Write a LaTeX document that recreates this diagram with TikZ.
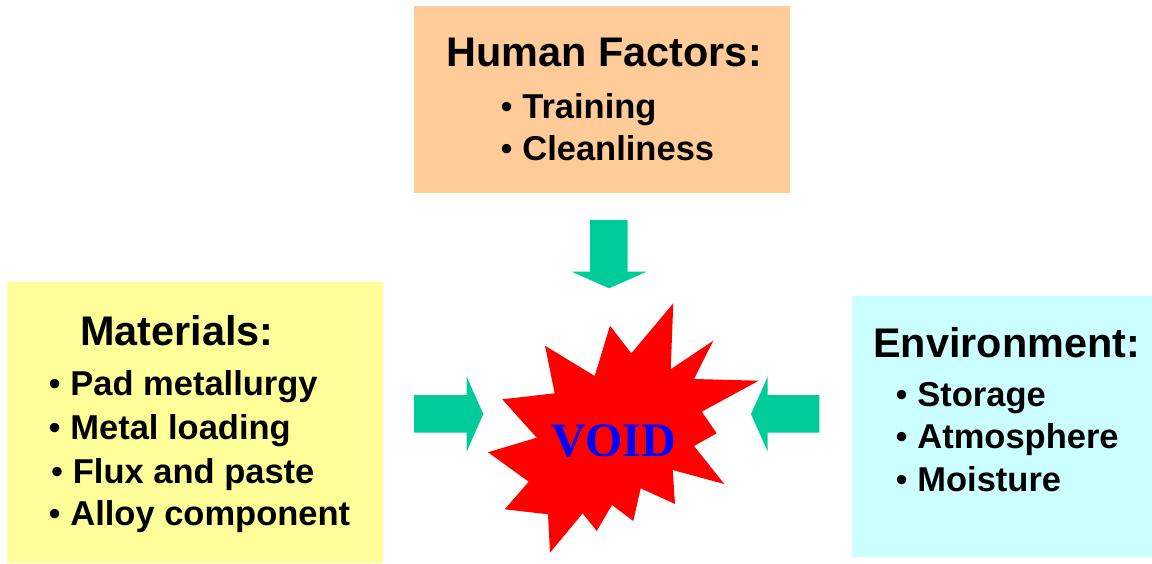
\documentclass[tikz,border=0pt]{standalone}
\usepackage{fontspec}
\setmainfont{Liberation Sans}
\newfontfamily\voidfont{Liberation Serif}
\usepackage{tikz}
\usetikzlibrary{positioning}
\definecolor{peach}{HTML}{FFCC99}
\definecolor{lemon}{HTML}{FFFF99}
\definecolor{aqua}{HTML}{CCFFFF}
\definecolor{sea}{HTML}{00CC99}
\newcommand{\bul}{{\mdseries •} }
\tikzset{head/.style={anchor=base west,inner sep=0pt,font=\fontsize{41.4}{41.4}\selectfont\bfseries},
         item/.style={anchor=base west,inner sep=0pt,font=\fontsize{34.5}{34.5}\selectfont\bfseries},
         blockarrow/.style={fill=sea}}

\begin{document}
\begin{tikzpicture}[x=1pt,y=-1pt]
            \useasboundingbox (0,0) rectangle (1152,563);
            % boxes
            \fill[peach] (414,6) rectangle (790,193);
            \fill[lemon] (7,282) rectangle (383,563);
            \fill[aqua] (852,296) rectangle (1152,557);
            % top box
            \node[head] (human) at (446.5,66.5) {Human Factors:};
            \node[item] (training) at (500.5,118) {\bul Training};
            \node[item] (clean) at (500.5,160.5) {\bul Cleanliness};
            % left box
            \node[head] (mat) at (80,345) {Materials:};
            \node[item] (pad) at (48.5,395) {\bul Pad metallurgy};
            \node[item] (metal) at (48.5,439.5) {\bul Metal loading};
            \node[item] (flux) at (51,483) {\bul Flux and paste};
            \node[item] (alloy) at (48.5,525.5) {\bul Alloy component};
            % right box
            \node[head] (env) at (873,357) {Environment:};
            \node[item] (store) at (895.5,406) {\bul Storage};
            \node[item] (atmo) at (895.5,448.5) {\bul Atmosphere};
            \node[item] (moist) at (895.5,491.5) {\bul Moisture};
            % block arrows
            \fill[blockarrow] (590,220) -- (627.7,220) -- (627.7,271.7) -- (646.7,271.7)
                -- (609,288.3) -- (571.7,271.7) -- (590,271.7) -- cycle;
            \fill[blockarrow] (414,395) -- (466.7,395) -- (466.7,376.7) -- (483.3,414)
                -- (466.7,451.7) -- (466.7,432.7) -- (414,432.7) -- cycle;
            \fill[blockarrow] (819.3,395) -- (767.7,395) -- (767.7,376.7) -- (751,414)
                -- (767.7,451.7) -- (767.7,432.7) -- (819.3,432.7) -- cycle;
            % starburst
            \fill[red] (673.3,303.3) -- (670.7,369.3) -- (713.3,340.7) -- (694,379)
                -- (758.7,380.7) -- (701.7,411.7) -- (716.7,433.3) -- (694,446)
                -- (724.3,484) -- (672.7,470) -- (675,504) -- (640.7,488.3)
                -- (633.3,521) -- (612,505) -- (596.7,531) -- (582.7,513.3)
                -- (550,552.7) -- (548,514.3) -- (504.7,509.3) -- (528.7,481.7)
                -- (488,452.3) -- (536.7,437.7) -- (502.3,399.3) -- (554.7,393.3)
                -- (545,345.7) -- (594.7,376) -- (610,325.7) -- (631.3,353.3) -- cycle;
            \node[anchor=base,inner sep=0pt,text=blue,font=\voidfont\fontsize{48}{48}\selectfont\bfseries] (void) at (614,456) {VOID};
\end{tikzpicture}
\end{document}
